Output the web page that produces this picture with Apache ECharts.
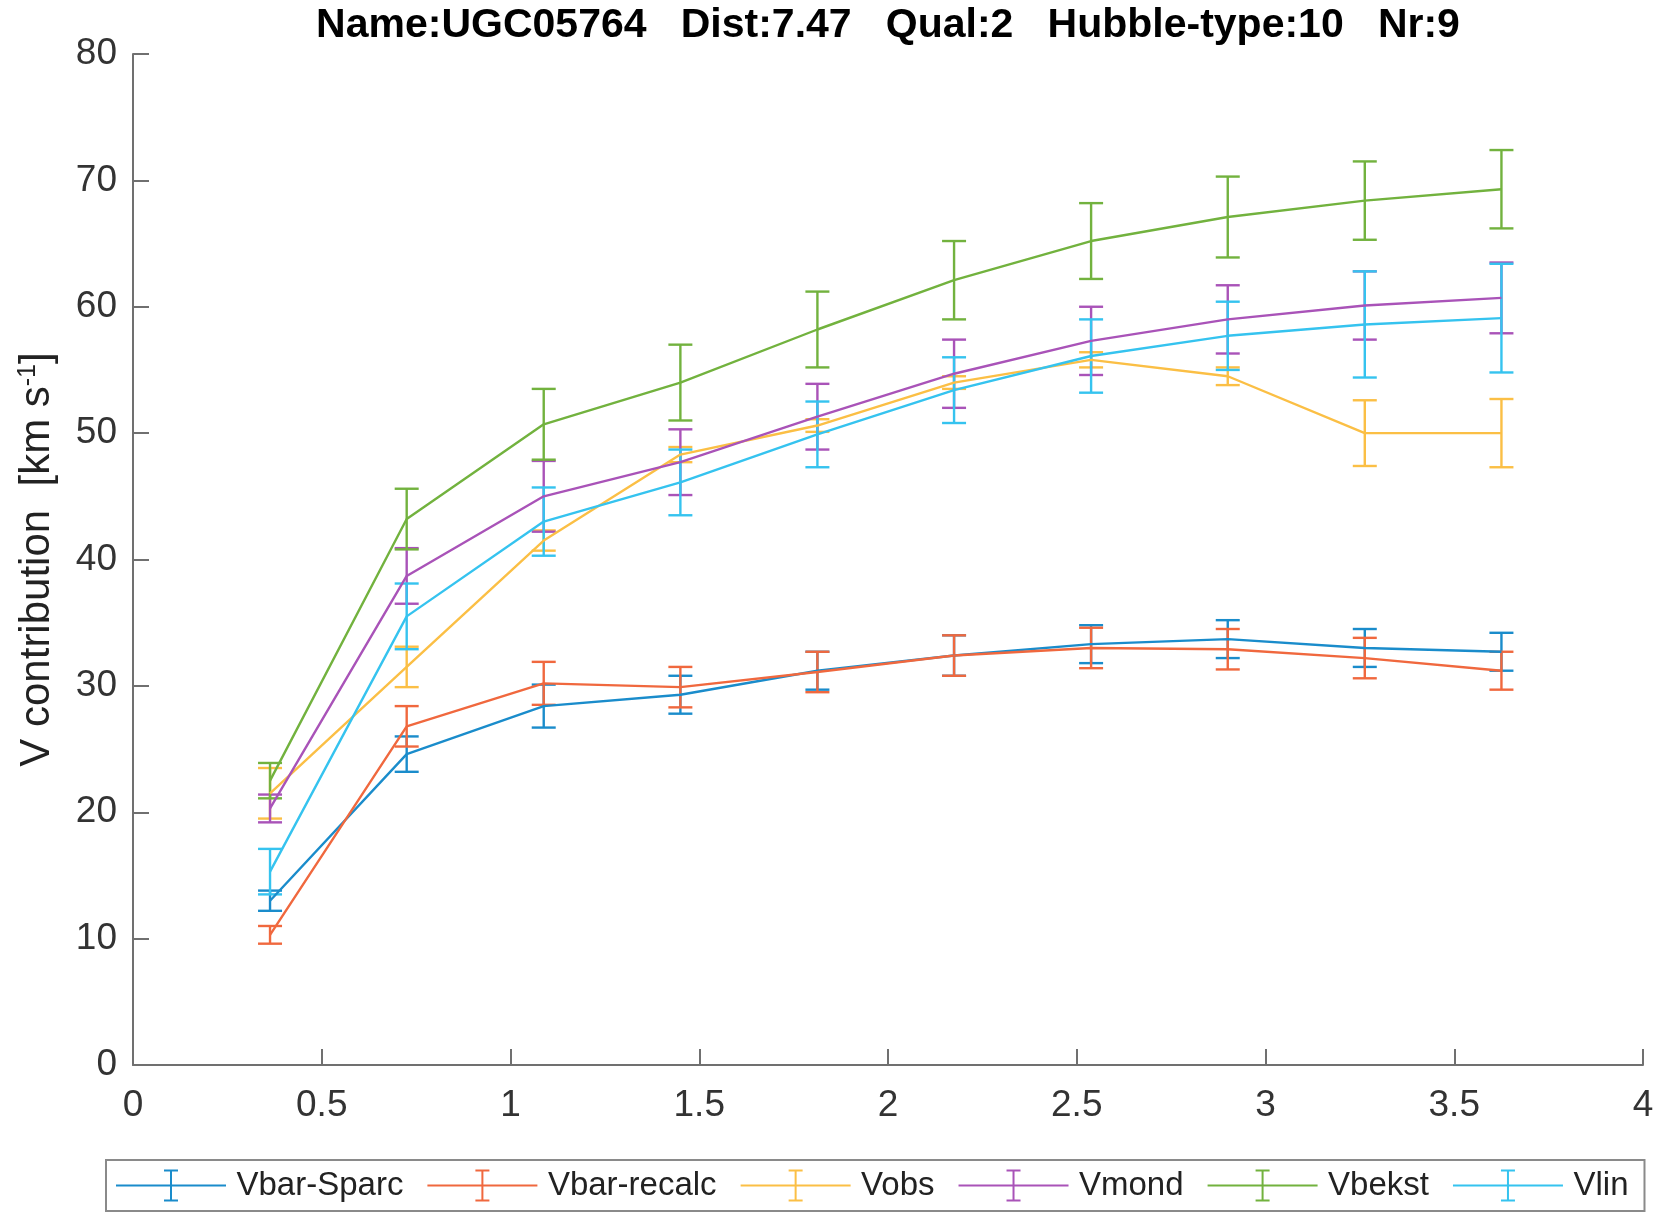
<!DOCTYPE html>
<html>
<head>
    <meta charset="utf-8">
    <title>UGC05764</title>
    <script src="https://cdn.jsdelivr.net/npm/echarts@6/dist/echarts.min.js"></script>
    <style>
        * { padding: 0; margin: 0; }
        body { background: #fff; }
    </style>
</head>
<body>
    <div id="main" style="width:1659px;height:1224px;"></div>
    <script type="text/javascript">
        // radius (kpc)
        var radius = [0.363, 0.725, 1.088, 1.450, 1.813, 2.175, 2.538, 2.900, 3.263, 3.625];

        var seriesNames = ['Vbar-Sparc', 'Vbar-recalc', 'Vobs', 'Vmond', 'Vbekst', 'Vlin'];
        var seriesColors = ['#1a8ccb', '#f0683e', '#fbbf45', '#a953b8', '#72b23e', '#35c3ef'];

        var vbarSparc     = [13.0, 24.6, 28.4, 29.3, 31.2, 32.4, 33.3, 33.7, 33.0, 32.7];
        var vbarSparcErr  = [0.8, 1.4, 1.7, 1.5, 1.5, 1.6, 1.5, 1.5, 1.5, 1.5];
        var vbarRecalc    = [10.3, 26.8, 30.2, 29.9, 31.1, 32.4, 33.0, 32.9, 32.2, 31.2];
        var vbarRecalcErr = [0.7, 1.6, 1.7, 1.6, 1.6, 1.6, 1.6, 1.6, 1.6, 1.5];
        var vobs          = [21.5, 31.5, 41.5, 48.3, 50.6, 54.0, 55.8, 54.5, 50.0, 50.0];
        var vobsErr       = [2.0, 1.6, 0.8, 0.6, 0.5, 0.5, 0.6, 0.7, 2.6, 2.7];
        var vmond         = [20.3, 38.7, 45.0, 47.7, 51.3, 54.7, 57.3, 59.0, 60.1, 60.7];
        var vmondErr      = [1.1, 2.2, 2.8, 2.6, 2.6, 2.7, 2.7, 2.7, 2.7, 2.8];
        var vbekst        = [22.5, 43.2, 50.7, 54.0, 58.2, 62.1, 65.2, 67.1, 68.4, 69.3];
        var vbekstErr     = [1.4, 2.4, 2.8, 3.0, 3.0, 3.1, 3.0, 3.2, 3.1, 3.1];
        var vlin          = [15.3, 35.5, 43.0, 46.1, 49.9, 53.4, 56.1, 57.7, 58.6, 59.1];
        var vlinErr       = [1.8, 2.6, 2.7, 2.6, 2.6, 2.6, 2.9, 2.7, 4.2, 4.3];

        var values = [vbarSparc, vbarRecalc, vobs, vmond, vbekst, vlin];
        var errs = [vbarSparcErr, vbarRecalcErr, vobsErr, vmondErr, vbekstErr, vlinErr];

        // legend glyph: line with an error bar in the middle
        var errIcon = 'path://M0,15 h110 v2 h-110 Z M54,0 h2 v32 h-2 Z M48,0 h14 v2 h-14 Z M48,30 h14 v2 h-14 Z';

        var myChart = echarts.init(document.getElementById('main'));

        var series = [];
        seriesNames.forEach(function (name, i) {
            var lineData = [];
            var barData = [];
            for (var k = 0; k < radius.length; k++) {
                lineData.push([radius[k], values[i][k]]);
                barData.push([radius[k], values[i][k] - errs[i][k], values[i][k] + errs[i][k]]);
            }
            series.push({
                name: name,
                type: 'line',
                data: lineData,
                showSymbol: false,
                symbol: 'none',
                color: seriesColors[i],
                lineStyle: { width: 2.4, color: seriesColors[i] },
                z: 3
            });
            series.push({
                name: name,
                type: 'custom',
                data: barData,
                encode: { x: 0, y: [1, 2] },
                z: 2,
                renderItem: function (params, api) {
                    var x = api.value(0);
                    var lo = api.coord([x, api.value(1)]);
                    var hi = api.coord([x, api.value(2)]);
                    var hw = 12;
                    var style = { stroke: seriesColors[i], lineWidth: 2.4, fill: null };
                    return {
                        type: 'group',
                        children: [
                            { type: 'line', shape: { x1: lo[0], y1: lo[1], x2: hi[0], y2: hi[1] }, style: style },
                            { type: 'line', shape: { x1: lo[0] - hw, y1: lo[1], x2: lo[0] + hw, y2: lo[1] }, style: style },
                            { type: 'line', shape: { x1: hi[0] - hw, y1: hi[1], x2: hi[0] + hw, y2: hi[1] }, style: style }
                        ]
                    };
                }
            });
        });

        var option = {
            backgroundColor: '#ffffff',
            animation: false,
            textStyle: { fontFamily: 'Liberation Sans, Arial, sans-serif' },
            title: {
                text: 'Name:UGC05764   Dist:7.47   Qual:2   Hubble-type:10   Nr:9',
                left: 883,
                textAlign: 'center',
                top: 0,
                textStyle: { fontSize: 41, fontWeight: 'bold', color: '#000' }
            },
            grid: { left: 133, right: 16, top: 54, bottom: 159 },
            legend: {
                data: seriesNames.map(function (n) { return { name: n, icon: errIcon }; }),
                left: 106,
                top: 1160,
                itemWidth: 111,
                itemHeight: 32,
                itemGap: 24,
                padding: [9, 16, 9, 10],
                borderColor: '#8a8a8a',
                borderWidth: 2,
                textStyle: { fontSize: 33, color: '#222', padding: [0, 0, 0, 5] }
            },
            xAxis: {
                type: 'value',
                min: 0,
                max: 4,
                interval: 0.5,
                axisLine: { lineStyle: { color: '#707070', width: 2 } },
                axisTick: { inside: true, length: 16, lineStyle: { color: '#707070', width: 2 } },
                axisLabel: { fontSize: 37, color: '#333', margin: 22 },
                splitLine: { show: false }
            },
            yAxis: {
                type: 'value',
                min: 0,
                max: 80,
                interval: 10,
                name: '{n|V contribution  [km s}{s|-1}{n|]}',
                nameLocation: 'middle',
                nameRotate: 90,
                nameGap: 74,
                nameTextStyle: {
                    rich: {
                        n: { fontSize: 42, color: '#222' },
                        s: { fontSize: 25, color: '#222', verticalAlign: 'top', padding: [0, 0, 18, 0] }
                    }
                },
                axisLine: { show: true, lineStyle: { color: '#707070', width: 2 } },
                axisTick: { show: true, inside: true, length: 16, lineStyle: { color: '#707070', width: 2 } },
                axisLabel: { fontSize: 37, color: '#333', margin: 16 },
                splitLine: { show: false }
            },
            series: series
        };

        myChart.setOption(option);
        window.onresize = myChart.resize;
    </script>
</body>
</html>
